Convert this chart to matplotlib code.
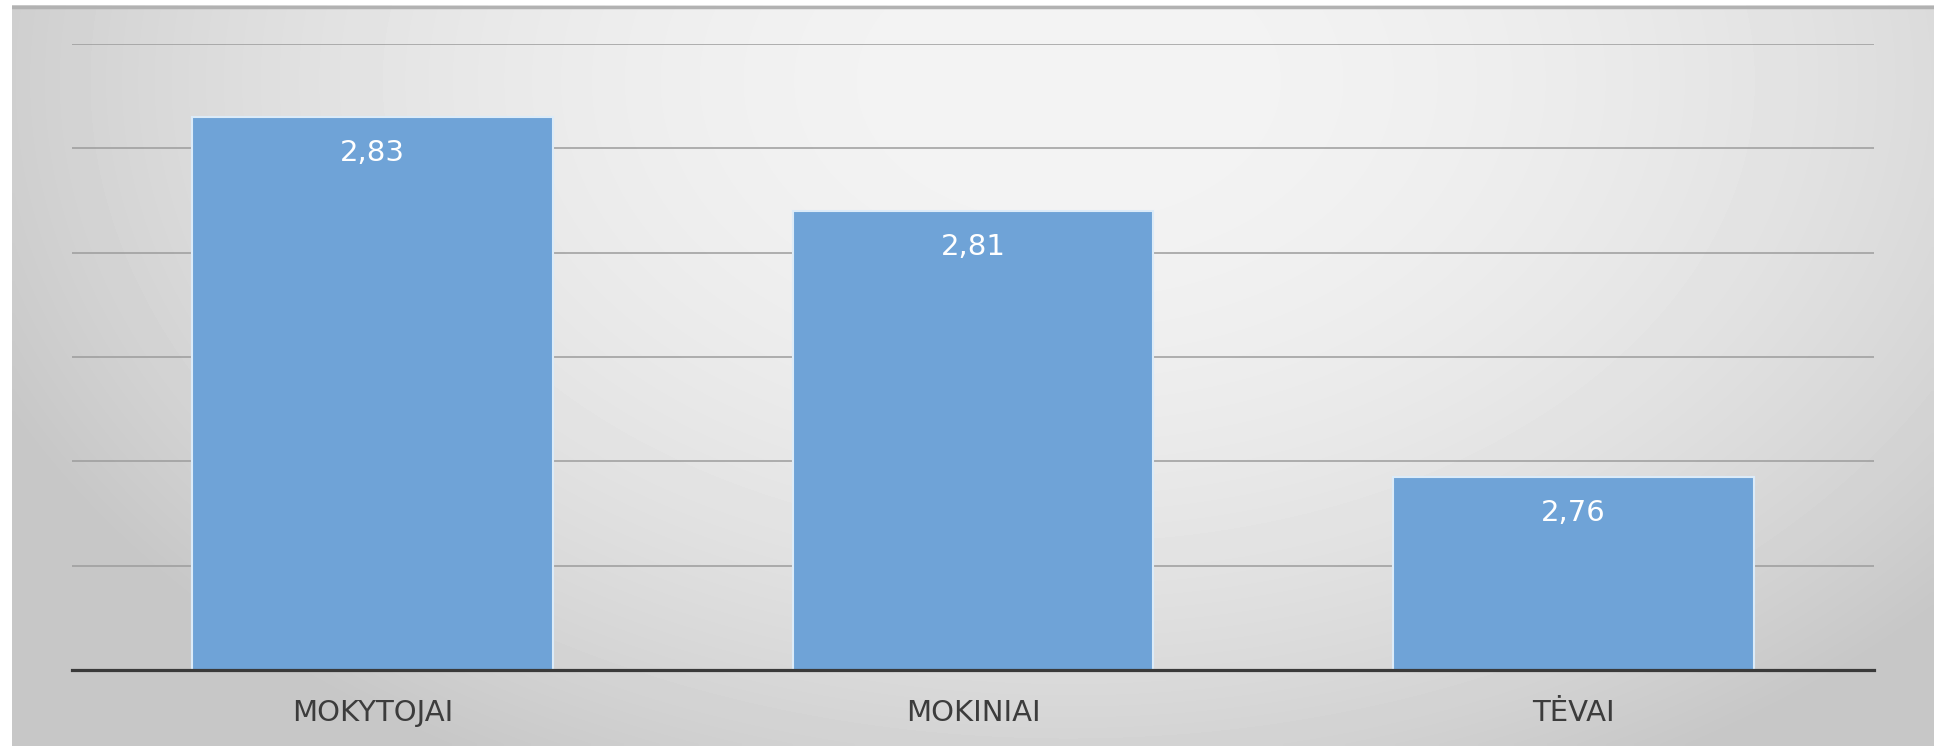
import numpy as np
import matplotlib
matplotlib.use("Agg")
import matplotlib.pyplot as plt

# survey group averages (axis starts at 2.72, step 0.02)
groups = ["MOKYTOJAI", "MOKINIAI", "TĖVAI"]
scores = [2.826, 2.808, 2.757]
y_min, y_max, y_step = 2.72, 2.84, 0.02

plt.rcParams['font.family'] = ['DejaVu Sans']

fig = plt.figure(figsize=(19.34, 7.46), dpi=100)
fig.patch.set_facecolor('white')

# gray slide background with soft radial light
bg = fig.add_axes([12/1934, 0, 1 - 12/1934, 1 - 5/746])
xx, yy = np.meshgrid(np.linspace(0, 1, 400), np.linspace(0, 1, 160))
r = np.sqrt(((xx - 0.55) / 0.6)**2 + ((yy - 0.1) / 1.05)**2)
shade = np.clip(0.955 - 0.17 * r**2, 0.78, 1)
bg.imshow(shade, cmap='gray', vmin=0, vmax=1, aspect='auto', interpolation='bilinear')
bg.axhline(0, color='#b2b2b2', lw=2.5)
bg.set_axis_off()

ax = fig.add_axes([72/1934, 1 - 670/746, (1874 - 72)/1934, (670 - 44)/746])
ax.patch.set_alpha(0)

x = np.arange(len(groups))
ax.bar(x, scores, width=0.6, color='#6fa3d7', edgecolor='#dcebf8', linewidth=1.5, zorder=3)

ax.set_ylim(y_min, y_max)
ax.set_xlim(-0.5, len(groups) - 0.5)
ax.set_yticks(np.arange(y_min, y_max + 0.001, y_step))
ax.yaxis.grid(True, color='#9c9c9c', linewidth=1.1, zorder=0)
ax.set_axisbelow(True)
ax.tick_params(axis='y', left=False, labelleft=False)
ax.tick_params(axis='x', length=0, pad=21, labelsize=21, labelcolor='#3c3c3c')
ax.set_xticks(x)
ax.set_xticklabels(groups)

for s in ['top', 'left', 'right']:
    ax.spines[s].set_visible(False)
ax.spines['bottom'].set_color('#3a3a3a')
ax.spines['bottom'].set_linewidth(2.3)
ax.spines['bottom'].set_zorder(4)

for i, v in enumerate(scores):
    ax.annotate(f"{v:.2f}".replace('.', ','), (i, v), xytext=(0, -26),
                textcoords='offset points', ha='center', va='center',
                fontsize=21, color='white', zorder=5)

fig.savefig("out.png", dpi=100)
